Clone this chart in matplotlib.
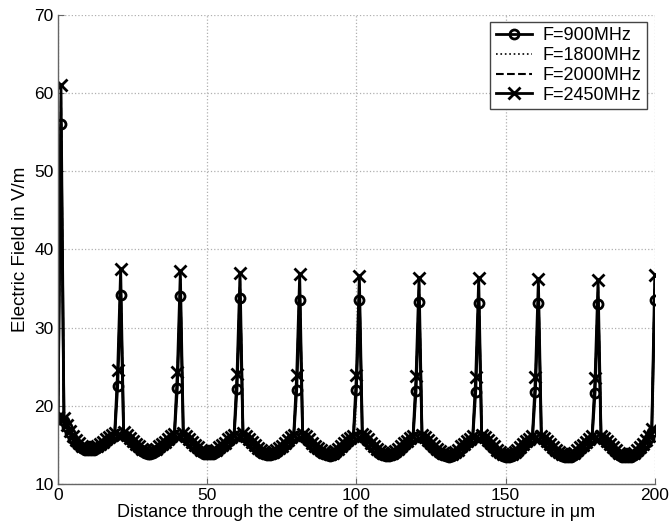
import matplotlib
matplotlib.use("Agg")
import matplotlib.pyplot as plt
import numpy as np

plt.rcParams['font.family'] = ['Liberation Sans', 'DejaVu Sans']

# x positions (micrometres), one sample per micrometre
x_um = list(range(0, 201))

labels = ["F=900MHz", "F=1800MHz", "F=2000MHz", "F=2450MHz"]

# ---------------- F = 2450 MHz ----------------
start_2450 = [18.6, 61.0]
troughs_2450 = [
    [18.4, 17.6, 16.8, 16.1, 15.6, 15.2, 14.9, 14.7, 14.6, 14.6, 14.7, 14.9, 15.1, 15.4, 15.7, 16.0, 16.3, 16.5],
    [16.6, 16.3, 15.9, 15.5, 15.1, 14.8, 14.5, 14.3, 14.2, 14.2, 14.3, 14.5, 14.8, 15.1, 15.4, 15.8, 16.1, 16.4],
    [16.5, 16.2, 15.8, 15.4, 15.0, 14.7, 14.4, 14.2, 14.1, 14.1, 14.2, 14.4, 14.7, 15.0, 15.3, 15.7, 16.0, 16.3],
    [16.5, 16.2, 15.8, 15.4, 15.0, 14.6, 14.3, 14.1, 14.0, 14.0, 14.1, 14.3, 14.6, 14.9, 15.3, 15.6, 16.0, 16.3],
    [16.4, 16.1, 15.7, 15.3, 14.9, 14.6, 14.3, 14.1, 14.0, 13.9, 14.0, 14.2, 14.5, 14.9, 15.2, 15.6, 15.9, 16.2],
    [16.4, 16.1, 15.7, 15.3, 14.9, 14.5, 14.2, 14.0, 13.9, 13.9, 14.0, 14.2, 14.5, 14.8, 15.2, 15.5, 15.9, 16.2],
    [16.3, 16.0, 15.6, 15.2, 14.8, 14.5, 14.2, 14.0, 13.9, 13.8, 13.9, 14.1, 14.4, 14.8, 15.1, 15.5, 15.8, 16.1],
    [16.3, 16.0, 15.6, 15.2, 14.8, 14.4, 14.1, 13.9, 13.8, 13.8, 13.9, 14.1, 14.4, 14.7, 15.1, 15.5, 15.8, 16.1],
    [16.2, 15.9, 15.5, 15.1, 14.7, 14.4, 14.1, 13.9, 13.8, 13.7, 13.8, 14.0, 14.3, 14.7, 15.0, 15.4, 15.8, 16.1],
    [16.2, 15.9, 15.5, 15.1, 14.7, 14.3, 14.0, 13.8, 13.7, 13.7, 13.8, 14.0, 14.3, 14.7, 15.1, 15.6, 16.2, 17.0],
]
halves_2450 = [24.6, 24.3, 24.1, 24.0, 23.9, 23.8, 23.7, 23.7, 23.6]
peaks_2450 = [37.5, 37.2, 37.0, 36.8, 36.6, 36.4, 36.3, 36.2, 36.1]
end_2450 = 36.7

# ---------------- F = 900 MHz ----------------
start_900 = [18.3, 56.0]
troughs_900 = [
    [18.1, 17.3, 16.5, 15.8, 15.3, 14.9, 14.6, 14.4, 14.3, 14.3, 14.4, 14.6, 14.8, 15.1, 15.4, 15.7, 16.0, 16.2],
    [16.3, 16.0, 15.6, 15.2, 14.8, 14.5, 14.2, 14.0, 13.9, 13.9, 14.0, 14.2, 14.5, 14.8, 15.1, 15.5, 15.8, 16.1],
    [16.2, 15.9, 15.5, 15.1, 14.7, 14.4, 14.1, 13.9, 13.8, 13.8, 13.9, 14.1, 14.4, 14.7, 15.0, 15.4, 15.7, 16.0],
    [16.2, 15.9, 15.5, 15.1, 14.7, 14.3, 14.0, 13.8, 13.7, 13.7, 13.8, 14.0, 14.3, 14.6, 15.0, 15.3, 15.7, 16.0],
    [16.1, 15.8, 15.4, 15.0, 14.6, 14.3, 14.0, 13.8, 13.7, 13.6, 13.7, 13.9, 14.2, 14.6, 14.9, 15.3, 15.6, 15.9],
    [16.1, 15.8, 15.4, 15.0, 14.6, 14.2, 13.9, 13.7, 13.6, 13.6, 13.7, 13.9, 14.2, 14.5, 14.9, 15.2, 15.6, 15.9],
    [16.0, 15.7, 15.3, 14.9, 14.5, 14.2, 13.9, 13.7, 13.6, 13.5, 13.6, 13.8, 14.1, 14.5, 14.8, 15.2, 15.5, 15.8],
    [16.0, 15.7, 15.3, 14.9, 14.5, 14.1, 13.8, 13.6, 13.5, 13.5, 13.6, 13.8, 14.1, 14.4, 14.8, 15.2, 15.5, 15.8],
    [15.9, 15.6, 15.2, 14.8, 14.4, 14.1, 13.8, 13.6, 13.5, 13.4, 13.5, 13.7, 14.0, 14.4, 14.7, 15.1, 15.5, 15.8],
    [15.9, 15.6, 15.2, 14.8, 14.4, 14.0, 13.7, 13.5, 13.4, 13.4, 13.5, 13.7, 14.0, 14.4, 14.8, 15.3, 15.9, 16.7],
]
halves_900 = [22.5, 22.3, 22.2, 22.0, 22.0, 21.9, 21.8, 21.8, 21.7]
peaks_900 = [34.2, 34.0, 33.8, 33.6, 33.5, 33.3, 33.2, 33.1, 33.0]
end_900 = 33.5

# ---------------- F = 1800 MHz (hidden under the others) ----------------
start_1800 = [18.4, 58.5]
troughs_1800 = troughs_900
halves_1800 = [23.5, 23.3, 23.1, 23.0, 22.9, 22.8, 22.7, 22.7, 22.6]
peaks_1800 = [35.9, 35.6, 35.4, 35.2, 35.0, 34.9, 34.8, 34.7, 34.6]
end_1800 = 35.1

# ---------------- F = 2000 MHz (hidden under the others) ----------------
start_2000 = [18.5, 59.5]
troughs_2000 = troughs_2450
halves_2000 = [23.9, 23.7, 23.5, 23.4, 23.3, 23.2, 23.1, 23.1, 23.0]
peaks_2000 = [36.5, 36.2, 36.0, 35.8, 35.6, 35.5, 35.4, 35.3, 35.2]
end_2000 = 35.7


def build(start, troughs, halves, peaks, end):
    vals = list(start) + list(troughs[0])
    for h, p, t in zip(halves, peaks, troughs[1:]):
        vals += [h, p] + list(t)
    vals.append(end)
    return vals


series = {
    "F=900MHz": build(start_900, troughs_900, halves_900, peaks_900, end_900),
    "F=1800MHz": build(start_1800, troughs_1800, halves_1800, peaks_1800, end_1800),
    "F=2000MHz": build(start_2000, troughs_2000, halves_2000, peaks_2000, end_2000),
    "F=2450MHz": build(start_2450, troughs_2450, halves_2450, peaks_2450, end_2450),
}

styles = {
    "F=900MHz": dict(ls='-', marker='o', ms=6.5, mfc='none', mew=2.0, lw=2.0),
    "F=1800MHz": dict(ls=':', marker=None, lw=1.2),
    "F=2000MHz": dict(ls='--', marker=None, lw=1.5),
    "F=2450MHz": dict(ls='-', marker='x', ms=9, mew=2.0, lw=2.0),
}

fig = plt.figure(figsize=(6.69, 5.27), dpi=100)
ax = fig.add_axes([0.0867, 0.0816, 0.892, 0.890])

for name in labels:
    ax.plot(x_um, series[name], color='black', label=name, **styles[name])

ax.set_xlim(0, 200)
ax.set_ylim(10, 70)
ax.set_xticks([0, 50, 100, 150, 200])
ax.set_yticks([10, 20, 30, 40, 50, 60, 70])
ax.grid(True, ls=':', color='#b0b0b0', lw=0.9)
ax.set_axisbelow(True)
for s in ['top', 'right']:
    ax.spines[s].set_visible(False)
for s in ['left', 'bottom']:
    ax.spines[s].set_color('#666666')
    ax.spines[s].set_linewidth(1.0)
ax.tick_params(direction='in', length=4, width=0.8, color='#666666',
               labelsize=12.5)
ax.tick_params(axis='x', pad=3)
ax.tick_params(axis='y', pad=3)

ax.set_xlabel("Distance through the centre of the simulated structure in \u03bcm",
              fontsize=13, labelpad=0.5)
ax.set_ylabel("Electric Field in V/m", fontsize=13.5, labelpad=4)

leg = ax.legend(loc='upper right', fontsize=13, numpoints=1, handlelength=2.0,
                labelspacing=0.15, borderpad=0.3, handletextpad=0.6,
                borderaxespad=0.0, fancybox=False, framealpha=1,
                edgecolor='#444444', bbox_to_anchor=(0.987, 0.985))
leg.get_frame().set_linewidth(1.0)

fig.savefig("out.png", dpi=100)
